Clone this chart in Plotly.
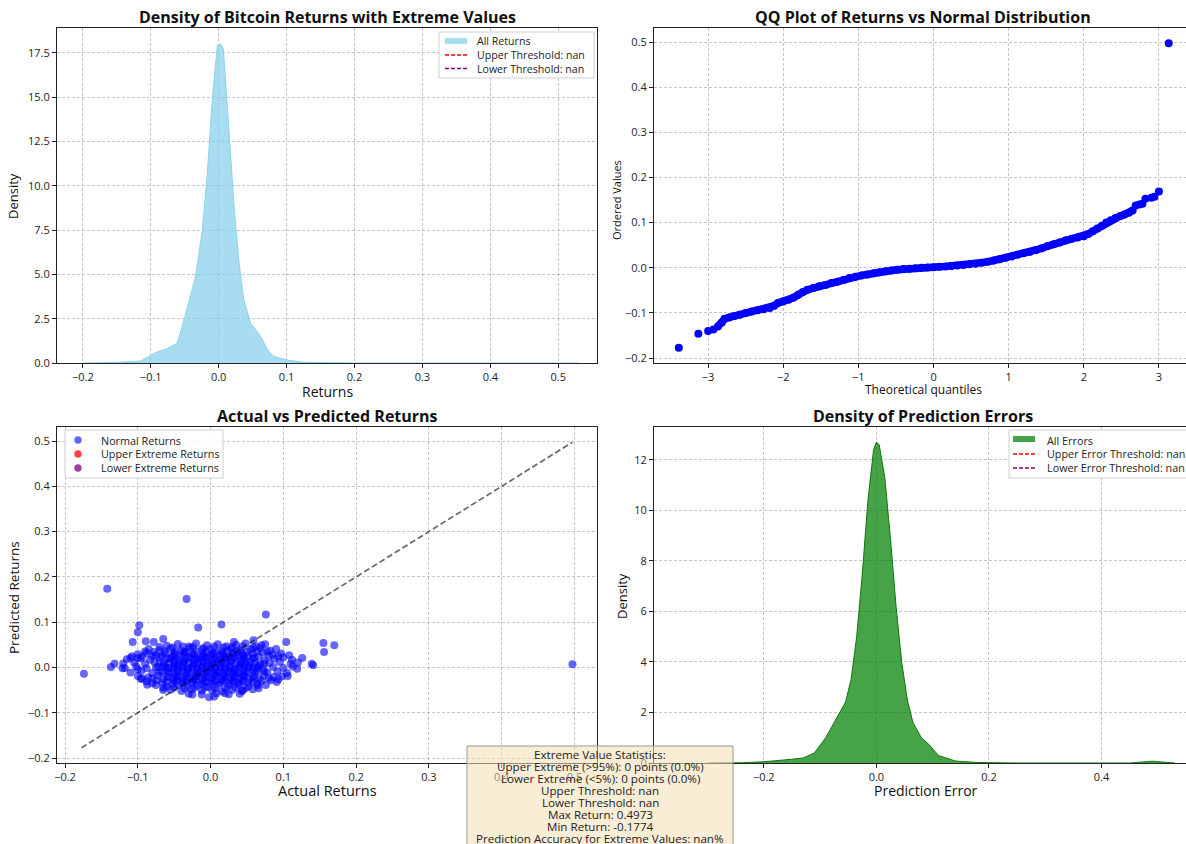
import plotly.graph_objects as go

# ---------------- DATA ----------------
# Top-left: KDE of returns
ret_x = [-0.2, -0.17, -0.149, -0.115, -0.1, -0.09, -0.078, -0.061, -0.051, -0.041, -0.034, -0.024,
         -0.017, -0.009, -0.002, 0.003, 0.007, 0.015, 0.023, 0.030, 0.037, 0.047, 0.062, 0.072,
         0.081, 0.101, 0.125, 0.17, 0.2, 0.3, 0.4, 0.49, 0.53]
ret_y = [0.0, 0.01, 0.04, 0.11, 0.45, 0.64, 0.77, 1.11, 2.43, 3.95, 4.89, 7.53,
         10.55, 15.08, 17.9, 18.0, 17.7, 13.2, 8.66, 5.65, 3.57, 2.25, 1.49, 0.74,
         0.36, 0.17, 0.04, 0.02, 0.0, 0.0, 0.0, 0.02, 0.0]

# Top-right: QQ plot (theoretical quantiles vs ordered values)
qq_theoretical = [-3.39, -3.13, -3.0, -2.93, -2.87, -2.82, -2.78, -2.72, -2.65, -2.58, -2.5, -2.42,
                  -2.34, -2.26, -2.18, -2.12, -2.07, -2.0, -1.93, -1.86, -1.8, -1.74, -1.68, -1.6,
                  -1.52, -1.44, -1.36, -1.28, -1.2, -1.12, -1.04, -0.96, -0.88, -0.8, -0.72, -0.64,
                  -0.56, -0.48, -0.4, -0.32, -0.24, -0.16, -0.08, 0.0, 0.08, 0.16, 0.24, 0.32,
                  0.4, 0.48, 0.56, 0.64, 0.72, 0.8, 0.88, 0.96, 1.04, 1.12, 1.2, 1.28,
                  1.36, 1.44, 1.52, 1.6, 1.68, 1.76, 1.84, 1.92, 2.0, 2.06, 2.12, 2.18,
                  2.24, 2.3, 2.36, 2.42, 2.48, 2.54, 2.6, 2.65, 2.69, 2.74, 2.78, 2.82,
                  2.9, 2.94, 3.0, 3.13]
qq_ordered = [-0.1774, -0.146, -0.140, -0.137, -0.130, -0.122, -0.113, -0.110, -0.107, -0.104, -0.100, -0.097,
              -0.094, -0.092, -0.089, -0.084, -0.078, -0.075, -0.071, -0.066, -0.060, -0.054, -0.049, -0.045,
              -0.041, -0.038, -0.034, -0.031, -0.027, -0.023, -0.020, -0.017, -0.015, -0.012, -0.010, -0.008,
              -0.006, -0.0045, -0.003, -0.002, -0.001, 0.0, 0.0005, 0.001, 0.002, 0.003, 0.004, 0.005,
              0.006, 0.0075, 0.009, 0.011, 0.013, 0.016, 0.019, 0.022, 0.025, 0.029, 0.032, 0.035,
              0.039, 0.043, 0.048, 0.052, 0.056, 0.061, 0.064, 0.067, 0.070, 0.075, 0.081, 0.087,
              0.093, 0.100, 0.105, 0.110, 0.114, 0.118, 0.122, 0.127, 0.138, 0.140, 0.142, 0.153,
              0.155, 0.157, 0.169, 0.4973]
qq_band = slice(4, 80)   # part of the QQ curve where points overlap into a band

# Bottom-left: actual vs predicted returns
actual_returns = [
    -0.142, -0.033, 0.076, 0.015, -0.017, -0.098, -0.1, -0.107, -0.089, -0.078, -0.065, 0.104, 0.155, 0.170,
    0.156, 0.139, 0.141, 0.126, 0.119, 0.106, -0.174, -0.137, -0.132, -0.121, -0.110, -0.096, -0.1, -0.096,
    -0.087, -0.065, -0.025, -0.002, 0.005, 0.02, 0.043, 0.066, 0.091, 0.059, 0.075, 0.032, 0.4973,
    -0.06, -0.045, -0.03, -0.02, -0.005, 0.01, 0.022, 0.035, 0.048, 0.062, 0.07,
    -0.085, -0.07, -0.055, -0.04, -0.028, -0.012, 0.0, 0.015, 0.028, 0.04, 0.055, 0.068, 0.082, 0.09,
    -0.1, -0.088, -0.075, -0.062, -0.05, -0.036, -0.024, -0.01, 0.004, 0.018, 0.03, 0.045, 0.058, 0.072, 0.085, 0.097, 0.108,
    -0.115, -0.1, -0.083, -0.07, -0.056, -0.043, -0.03, -0.017, -0.004, 0.008, 0.021, 0.034, 0.047, 0.06, 0.074, 0.088, 0.1, 0.112,
    -0.12, -0.105, -0.09, -0.077, -0.064, -0.05, -0.037, -0.023, -0.01, 0.003, 0.016, 0.029, 0.042, 0.055, 0.068, 0.081, 0.095, 0.11, 0.12,
    -0.118, -0.102, -0.088, -0.072, -0.058, -0.045, -0.031, -0.018, -0.006, 0.007, 0.02, 0.033, 0.046, 0.059, 0.072, 0.086, 0.1, 0.113,
    -0.11, -0.095, -0.08, -0.066, -0.052, -0.039, -0.026, -0.013, 0.0, 0.012, 0.025, 0.038, 0.051, 0.064, 0.078, 0.092, 0.105,
    -0.1, -0.086, -0.072, -0.058, -0.044, -0.031, -0.018, -0.005, 0.008, 0.021, 0.034, 0.047, 0.06, 0.073, 0.087, 0.098,
    -0.088, -0.074, -0.06, -0.046, -0.033, -0.02, -0.007, 0.006, 0.019, 0.032, 0.045, 0.058, 0.07, 0.083,
    -0.075, -0.06, -0.045, -0.032, -0.018, -0.004, 0.01, 0.024, 0.038, 0.052, 0.065, 0.076,
    -0.055, -0.04, -0.026, -0.012, 0.002, 0.016, 0.03, 0.044, 0.058,
    -0.03, -0.012, 0.008, 0.025, 0.04,
    -0.065, -0.05, -0.038, -0.024, -0.012, 0.0, 0.013, 0.026, 0.04, 0.053, 0.066,
    -0.06, -0.045, -0.032, -0.018, -0.006, 0.006, 0.019, 0.032, 0.045, 0.058,
    -0.05, -0.036, -0.022, -0.01, 0.002, 0.014, 0.028, 0.042,
    -0.048, -0.034, -0.02, -0.008, 0.004, 0.017, 0.03, 0.044,
    -0.07, -0.052, -0.038, -0.024, -0.01, 0.005, 0.018, 0.03, 0.044, 0.058,
    -0.09, -0.078, -0.063, -0.048, -0.034, -0.02, -0.006, 0.008, 0.022, 0.036, 0.05, 0.064, 0.078,
    -0.108, -0.094, -0.08, -0.067, -0.053, -0.04, -0.027, -0.013, 0.0, 0.012, 0.025, 0.039, 0.052, 0.066, 0.08, 0.093,
    -0.094, -0.08, -0.065, -0.051, -0.038, -0.024, -0.011, 0.002, 0.015, 0.028, 0.041, 0.054, 0.067, 0.08, 0.093,
    -0.08, -0.066, -0.052, -0.039, -0.026, -0.013, 0.0, 0.013, 0.026, 0.039, 0.052, 0.064,
    -0.065, -0.05, -0.036, -0.022, -0.008, 0.006, 0.02, 0.034, 0.048,
    -0.075, -0.062, -0.05, -0.038, -0.025, -0.012, 0.001, 0.014, 0.027, 0.04, 0.052, 0.065,
    -0.07, -0.057, -0.044, -0.03, -0.017, -0.004, 0.009, 0.022, 0.035, 0.048, 0.061, 0.074,
    -0.07, -0.057, -0.044, -0.03, -0.017, -0.004, 0.009, 0.022, 0.035, 0.048, 0.061, 0.074,
    -0.06, -0.047, -0.034, -0.02, -0.007, 0.006, 0.019, 0.032, 0.045, 0.058,
    -0.06, -0.047, -0.034, -0.02, -0.007, 0.006, 0.019, 0.032, 0.045, 0.058,
    -0.05, -0.037, -0.023, -0.01, 0.003, 0.016, 0.03, 0.043,
    -0.05, -0.037, -0.023, -0.01, 0.003, 0.016, 0.03, 0.043,
]
predicted_returns = [
    0.174, 0.151, 0.117, 0.095, 0.088, 0.093, 0.078, 0.056, 0.058, 0.056, 0.063, 0.056, 0.054, 0.049,
    0.034, 0.008, 0.005, 0.021, -0.003, -0.019, -0.014, 0.001, 0.008, -0.002, 0.021, 0.020, -0.004, -0.025,
    -0.038, -0.05, -0.06, -0.066, -0.064, -0.057, -0.052, -0.046, -0.032, 0.06, 0.051, 0.056, 0.007,
    0.048, 0.052, 0.046, 0.053, 0.049, 0.051, 0.047, 0.05, 0.053, 0.046, 0.049,
    0.041, 0.038, 0.042, 0.037, 0.043, 0.039, 0.041, 0.036, 0.042, 0.038, 0.04, 0.043, 0.037, 0.041,
    0.029, 0.032, 0.027, 0.031, 0.028, 0.033, 0.029, 0.026, 0.031, 0.028, 0.032, 0.027, 0.03, 0.033, 0.028, 0.031, 0.027,
    0.018, 0.021, 0.017, 0.022, 0.019, 0.016, 0.021, 0.018, 0.022, 0.017, 0.02, 0.023, 0.018, 0.021, 0.016, 0.019, 0.022, 0.017,
    0.009, 0.011, 0.008, 0.012, 0.01, 0.007, 0.011, 0.009, 0.012, 0.008, 0.01, 0.013, 0.009, 0.011, 0.007, 0.01, 0.012, 0.008, 0.011,
    -0.001, 0.002, -0.002, 0.001, -0.001, 0.003, -0.002, 0.0, 0.002, -0.001, 0.001, -0.003, 0.002, 0.0, -0.002, 0.001, -0.001, 0.002,
    -0.011, -0.008, -0.012, -0.009, -0.011, -0.007, -0.012, -0.01, -0.008, -0.011, -0.009, -0.012, -0.01, -0.008, -0.011, -0.009, -0.012,
    -0.019, -0.022, -0.018, -0.021, -0.02, -0.023, -0.019, -0.021, -0.018, -0.022, -0.02, -0.019, -0.022, -0.018, -0.021, -0.02,
    -0.031, -0.028, -0.032, -0.029, -0.031, -0.027, -0.032, -0.03, -0.028, -0.031, -0.029, -0.032, -0.03, -0.028,
    -0.039, -0.042, -0.038, -0.041, -0.04, -0.043, -0.039, -0.041, -0.038, -0.042, -0.04, -0.039,
    -0.049, -0.052, -0.048, -0.051, -0.05, -0.053, -0.049, -0.051, -0.048,
    -0.058, -0.06, -0.057, -0.059, -0.058,
    0.005, 0.004, 0.006, 0.005, 0.004, 0.006, 0.005, 0.004, 0.006, 0.005, 0.004,
    -0.005, -0.006, -0.004, -0.005, -0.006, -0.004, -0.005, -0.006, -0.004, -0.005,
    0.015, 0.014, 0.016, 0.015, 0.014, 0.016, 0.015, 0.014,
    -0.015, -0.016, -0.014, -0.015, -0.016, -0.014, -0.015, -0.016,
    0.045, 0.044, 0.046, 0.045, 0.043, 0.046, 0.044, 0.045, 0.046, 0.043,
    0.035, 0.034, 0.036, 0.035, 0.034, 0.036, 0.035, 0.034, 0.036, 0.035, 0.034, 0.036, 0.035,
    0.025, 0.024, 0.026, 0.025, 0.024, 0.026, 0.025, 0.024, 0.026, 0.025, 0.024, 0.026, 0.025, 0.024, 0.026, 0.025,
    -0.025, -0.024, -0.026, -0.025, -0.024, -0.026, -0.025, -0.024, -0.026, -0.025, -0.024, -0.026, -0.025, -0.024, -0.026,
    -0.035, -0.034, -0.036, -0.035, -0.034, -0.036, -0.035, -0.034, -0.036, -0.035, -0.034, -0.036,
    -0.045, -0.044, -0.046, -0.045, -0.044, -0.046, -0.045, -0.044, -0.046,
    0.0, 0.001, -0.001, 0.0, 0.001, -0.001, 0.0, 0.001, -0.001, 0.0, 0.001, -0.001,
    0.01, 0.011, 0.009, 0.01, 0.011, 0.009, 0.01, 0.011, 0.009, 0.01, 0.011, 0.009,
    -0.01, -0.011, -0.009, -0.01, -0.011, -0.009, -0.01, -0.011, -0.009, -0.01, -0.011, -0.009,
    0.02, 0.021, 0.019, 0.02, 0.021, 0.019, 0.02, 0.021, 0.019, 0.02,
    -0.02, -0.021, -0.019, -0.02, -0.021, -0.019, -0.02, -0.021, -0.019, -0.02,
    0.03, 0.031, 0.029, 0.03, 0.031, 0.029, 0.03, 0.031,
    -0.03, -0.031, -0.029, -0.03, -0.031, -0.029, -0.03, -0.031,
]
diag_ends = [-0.1774, 0.4973]

# Bottom-right: KDE of prediction errors
err_x = [-0.3, -0.24, -0.2, -0.17, -0.15, -0.13, -0.11, -0.09, -0.07, -0.055, -0.045, -0.035,
         -0.025, -0.015, -0.005, 0.0, 0.005, 0.015, 0.025, 0.035, 0.045, 0.055, 0.065, 0.08,
         0.095, 0.11, 0.14, 0.18, 0.25, 0.35, 0.45, 0.49, 0.53]
err_y = [0.0, 0.01, 0.05, 0.1, 0.15, 0.2, 0.4, 1.0, 1.8, 2.4, 3.3, 5.0,
         7.5, 10.4, 12.4, 12.7, 12.6, 11.3, 8.9, 6.2, 4.0, 2.5, 1.6, 1.0,
         0.7, 0.3, 0.08, 0.02, 0.0, 0.0, 0.0, 0.07, 0.0]

stats_lines = [
    "Extreme Value Statistics:",
    "Upper Extreme (>95%): 0 points (0.0%)",
    "Lower Extreme (<5%): 0 points (0.0%)",
    "Upper Threshold: nan",
    "Lower Threshold: nan",
    "Max Return: 0.4973",
    "Min Return: -0.1774",
    "Prediction Accuracy for Extreme Values: nan%",
]
legend1_labels = ["All Returns", "Upper Threshold: nan", "Lower Threshold: nan"]
legend2_labels = ["Normal Returns", "Upper Extreme Returns", "Lower Extreme Returns"]
legend3_labels = ["All Errors", "Upper Error Threshold: nan", "Lower Error Threshold: nan"]

# ---------------- FIGURE ----------------
W, H = 1186, 844
FONT = "Open Sans"
SKY = "rgba(135,206,235,0.72)"
GREEN = "rgba(0,128,0,0.72)"

def px_x(p):
    return p / W

def px_y(p):
    return 1 - p / H

LEFT = [px_x(57), px_x(597)]
RIGHT = [px_x(654), 1.0]
TOP = [px_y(363), px_y(28)]
BOT = [px_y(763), px_y(427)]

fig = go.Figure()

fig.add_trace(go.Scatter(x=ret_x, y=ret_y, mode="lines", fill="tozeroy",
                         fillcolor=SKY, line=dict(color="rgba(135,206,235,0.9)", width=1),
                         showlegend=False, xaxis="x", yaxis="y"))

fig.add_trace(go.Scatter(x=qq_theoretical[qq_band], y=qq_ordered[qq_band], mode="lines",
                         line=dict(color="blue", width=7.5), showlegend=False, xaxis="x2", yaxis="y2"))
fig.add_trace(go.Scatter(x=qq_theoretical, y=qq_ordered, mode="markers",
                         marker=dict(color="blue", size=8), showlegend=False, xaxis="x2", yaxis="y2"))

fig.add_trace(go.Scatter(x=actual_returns, y=predicted_returns, mode="markers",
                         marker=dict(color="rgba(0,0,255,0.6)", size=8, line=dict(width=0)),
                         showlegend=False, xaxis="x3", yaxis="y3"))
fig.add_trace(go.Scatter(x=diag_ends, y=diag_ends, mode="lines",
                         line=dict(color="rgba(0,0,0,0.6)", dash="6px,3px", width=1.7),
                         showlegend=False, xaxis="x3", yaxis="y3"))

fig.add_trace(go.Scatter(x=err_x, y=err_y, mode="lines", fill="tozeroy",
                         fillcolor=GREEN, line=dict(color="rgba(0,110,0,0.9)", width=1),
                         showlegend=False, xaxis="x4", yaxis="y4"))


def ax(domain, rng, dtick, fmt, anchor, mirror=True):
    return dict(domain=domain, range=rng, dtick=dtick, tickformat=fmt, anchor=anchor,
                showline=True, linecolor="#222", linewidth=1, mirror=mirror, automargin=False,
                ticks="outside", ticklen=4, tickcolor="#222", tickwidth=1,
                showgrid=True, gridcolor="rgba(160,160,160,0.6)", griddash="3px,2px", gridwidth=0.8,
                zeroline=False, tickfont=dict(size=11, color="#222", family=FONT))

fig.update_layout(
    width=W, height=H, margin=dict(l=0, r=0, t=0, b=0),
    paper_bgcolor="white", plot_bgcolor="white", showlegend=False,
    font=dict(family=FONT, color="#111"),
    xaxis=ax(LEFT, [-0.238, 0.557], 0.1, ".1f", "y"),
    yaxis=ax(TOP, [0, 18.9], 2.5, ".1f", "x"),
    xaxis2=ax(RIGHT, [-3.72, 3.36], 1, "d", "y2"),
    yaxis2=ax(TOP, [-0.211, 0.531], 0.1, ".1f", "x2", mirror=False),
    xaxis3=ax(LEFT, [-0.211, 0.531], 0.1, ".1f", "y3"),
    yaxis3=ax(BOT, [-0.211, 0.531], 0.1, ".1f", "x3"),
    xaxis4=ax(RIGHT, [-0.395, 0.55], 0.2, ".1f", "y4"),
    yaxis4=ax(BOT, [0, 13.3], 2, "d", "x4", mirror=False),
)

annots = []
shapes = []

def text(x, y, s, size, bold=False, angle=0, xanchor="center", color="#111"):
    annots.append(dict(x=px_x(x), y=px_y(y), xref="paper", yref="paper", text=(f"<b>{s}</b>" if bold else s),
                       showarrow=False, textangle=angle, xanchor=xanchor, yanchor="middle",
                       font=dict(size=size, family=FONT, color=color)))

def rect(x0, y0, x1, y1, fill, line="rgba(0,0,0,0)", width=1):
    shapes.append(dict(type="rect", xref="paper", yref="paper", x0=px_x(x0), x1=px_x(x1),
                       y0=px_y(y1), y1=px_y(y0), fillcolor=fill, line=dict(color=line, width=width),
                       layer="above"))

def hline(x0, x1, y, color):
    shapes.append(dict(type="line", xref="paper", yref="paper", x0=px_x(x0), x1=px_x(x1),
                       y0=px_y(y), y1=px_y(y), line=dict(color=color, width=1.5, dash="4px,2px"), layer="above"))

def dot(x, y, color, r=3.7):
    shapes.append(dict(type="circle", xref="paper", yref="paper", x0=px_x(x - r), x1=px_x(x + r),
                       y0=px_y(y + r), y1=px_y(y - r), fillcolor=color, line=dict(width=0), layer="above"))

# subplot titles
text(327, 17, "Density of Bitcoin Returns with Extreme Values", 16, bold=True)
text(923, 17, "QQ Plot of Returns vs Normal Distribution", 16, bold=True)
text(327, 416, "Actual vs Predicted Returns", 16, bold=True)
text(923, 416, "Density of Prediction Errors", 16, bold=True)
# axis titles
text(327, 391, "Returns", 14)
text(13, 196, "Density", 13, angle=-90)
text(923, 389, "Theoretical quantiles", 12)
text(616, 200, "Ordered Values", 11, angle=-90)
text(327, 790, "Actual Returns", 14.5)
text(14, 598, "Predicted Returns", 13.5, angle=-90)
text(926, 790, "Prediction Error", 14)
text(622, 596, "Density", 13, angle=-90)

LEG_BG = "rgba(255,255,255,0.85)"
LEG_LINE = "#d0d0d0"
# legend 1 (top-left)
rect(439, 32, 594, 78, LEG_BG, LEG_LINE)
rect(445, 38, 467, 44, SKY)
hline(445, 467, 55, "red")
hline(445, 467, 68.5, "purple")
for i, s in enumerate(legend1_labels):
    text(475, 41 + 13.8 * i, s, 10.6, xanchor="left", color="#222")
# legend 2 (bottom-left)
rect(65, 430, 223, 478, LEG_BG, LEG_LINE)
dot(78, 440, "rgba(0,0,255,0.6)")
dot(78, 454, "rgba(255,0,0,0.75)")
dot(78, 468, "rgba(128,0,128,0.75)")
for i, s in enumerate(legend2_labels):
    text(99, 440 + 14 * i, s, 10.8, xanchor="left", color="#222")
# legend 3 (bottom-right, cut at the right edge)
rect(1009, 430, 1195, 478, LEG_BG, LEG_LINE)
rect(1013, 436, 1035, 442, GREEN)
hline(1013, 1035, 454, "red")
hline(1013, 1035, 468, "purple")
for i, s in enumerate(legend3_labels):
    text(1045, 440 + 14 * i, s, 10.8, xanchor="left", color="#222")

# statistics box
rect(467, 746, 733, 852, "rgba(245,222,179,0.55)", "#999")
for i, s in enumerate(stats_lines):
    text(600, 754 + 12.1 * i, s, 11.6, color="#222")

fig.update_layout(annotations=annots, shapes=shapes)
fig.write_html("out.html", config={"displayModeBar": False},
               post_script="document.body.style.margin='0';document.body.style.overflow='hidden';")
